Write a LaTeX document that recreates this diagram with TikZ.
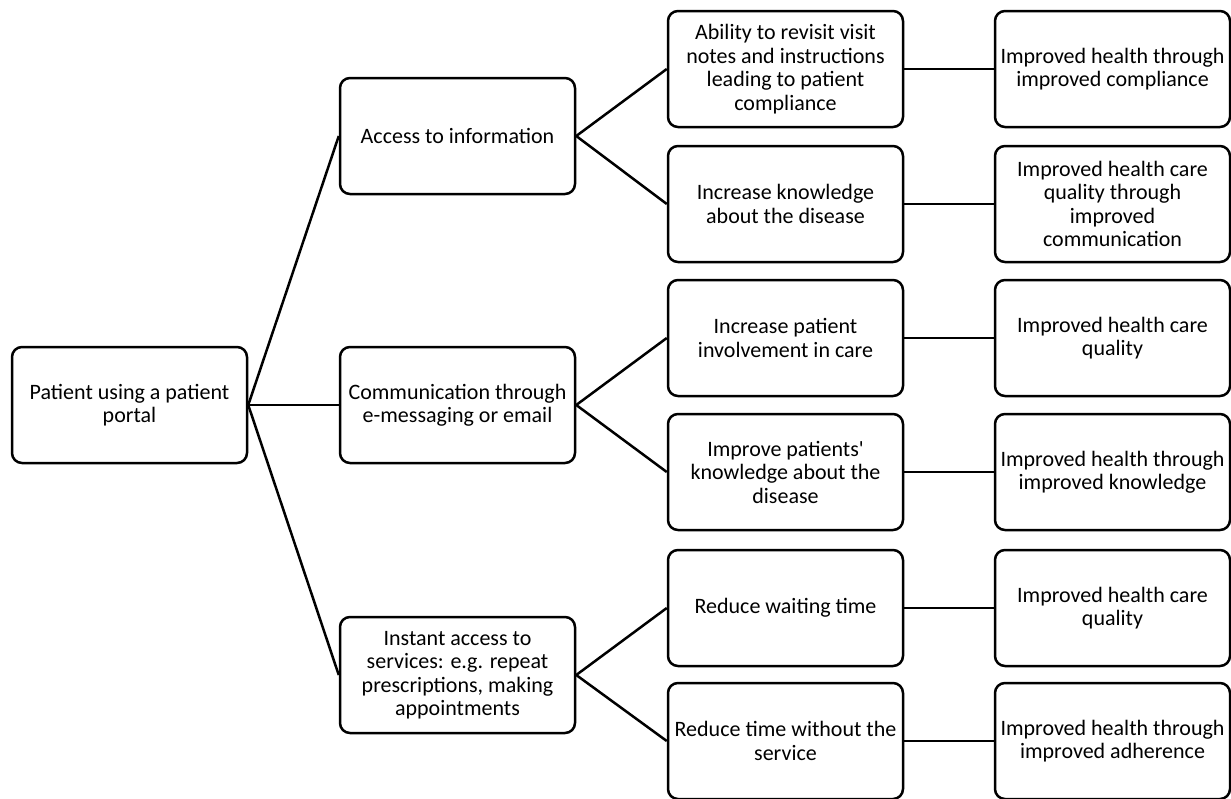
\documentclass[tikz,border=0pt]{standalone}
\usepackage{fontspec}
\setmainfont{Carlito}
\newfontfamily\plainfont{Carlito}
\begin{document}
\begin{tikzpicture}[x=1pt,y=-1pt,
  box/.style={draw, line width=2.5pt, rounded corners=10pt, minimum width=235pt, minimum height=116pt, inner sep=0pt, align=center, font=\fontsize{22}{23.5}\selectfont},
  link/.style={line width=2.5pt}]
\useasboundingbox (0,0) rectangle (1231,798);
\node[box] (root) at (129.5,405) {Patient using a patient\\portal};
\node[box] (a) at (457.5,136) {Access to information};
\node[box] (b) at (457.5,405) {Communication through\\e-messaging or email};
\node[box] (c) at (457.5,675) {Instant access to\\services: e.g. repeat\\prescriptions, making\\appointments};
\node[box] (a1) at (785.5,69) {Ability to revisit visit\\notes and instructions\\leading to patient\\compliance};
\node[box] (a2) at (785.5,204) {Increase knowledge\\about the disease};
\node[box] (b1) at (785.5,338) {Increase patient\\involvement in care};
\node[box] (b2) at (785.5,472) {Improve patients{\plainfont '}\\knowledge about the\\disease};
\node[box] (c1) at (785.5,608) {Reduce waiting time};
\node[box] (c2) at (785.5,741) {Reduce time without the\\service};
\node[box] (a1r) at (1112.5,69) {Improved health through\\improved compliance};
\node[box] (a2r) at (1112.5,204) {Improved health care\\quality through\\improved\\communication};
\node[box] (b1r) at (1112.5,338) {Improved health care\\quality};
\node[box] (b2r) at (1112.5,472) {Improved health through\\improved knowledge};
\node[box] (c1r) at (1112.5,608) {Improved health care\\quality};
\node[box] (c2r) at (1112.5,741) {Improved health through\\improved adherence};
\draw[link] (root.east) -- (a.west);
\draw[link] (root.east) -- (b.west);
\draw[link] (root.east) -- (c.west);
\draw[link] (a.east) -- (a1.west);
\draw[link] (a.east) -- (a2.west);
\draw[link] (b.east) -- (b1.west);
\draw[link] (b.east) -- (b2.west);
\draw[link] (c.east) -- (c1.west);
\draw[link] (c.east) -- (c2.west);
\draw[link] (a1.east) -- (a1r.west);
\draw[link] (a2.east) -- (a2r.west);
\draw[link] (b1.east) -- (b1r.west);
\draw[link] (b2.east) -- (b2r.west);
\draw[link] (c1.east) -- (c1r.west);
\draw[link] (c2.east) -- (c2r.west);
\end{tikzpicture}
\end{document}
